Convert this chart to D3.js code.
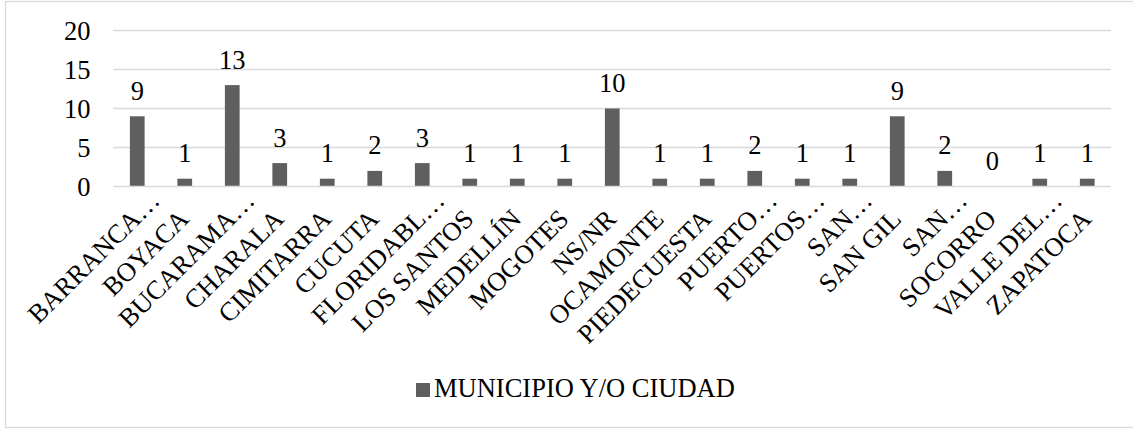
<!DOCTYPE html>
<html>
<head>
<meta charset="utf-8">
<script src="https://cdn.jsdelivr.net/npm/d3@7"></script>
<style>
  html, body { margin: 0; padding: 0; background: #fff; }
  svg { display: block; }
  text { font-family: "Liberation Serif", "Times New Roman", serif; fill: #000; }
</style>
</head>
<body>
<svg id="chart" width="1133" height="429"></svg>
<script>
const categories = ["BARRANCA…", "BOYACA", "BUCARAMA…", "CHARALA", "CIMITARRA", "CUCUTA",
  "FLORIDABL…", "LOS SANTOS", "MEDELLÍN", "MOGOTES", "NS/NR", "OCAMONTE", "PIEDECUESTA",
  "PUERTO…", "PUERTOS…", "SAN…", "SAN GIL", "SAN…", "SOCORRO", "VALLE DEL…", "ZAPATOCA"];
const values = [9, 1, 13, 3, 1, 2, 3, 1, 1, 1, 10, 1, 1, 2, 1, 1, 9, 2, 0, 1, 1];
const yTicks = [0, 5, 10, 15, 20];
const seriesName = "MUNICIPIO Y/O CIUDAD";

(function () {
const svg = d3.select("#chart");
const plotLeft = 113.5, plotRight = 1111, plotTop = 30.5, plotBottom = 186.5;
const fontSize = 26.5;
const fontFamily = '"Liberation Serif", "Times New Roman", serif';
const barColor = "#5f5f5f";
const gridColor = "#d9d9d9";

// chart border
svg.append("rect")
  .attr("x", 5.5).attr("y", 1.5)
  .attr("width", 1140).attr("height", 426)
  .attr("fill", "#fff").attr("stroke", gridColor).attr("stroke-width", 1.3);

const idx = categories.map((d, i) => i);
const x = d3.scaleBand().domain(idx).range([plotLeft, plotRight]).paddingInner(0.69).paddingOuter(0.345);
const y = d3.scaleLinear().domain([0, 20]).range([plotBottom, plotTop]);

// gridlines
svg.append("g").selectAll("line").data(yTicks.filter(t => t !== 0)).join("line")
  .attr("x1", plotLeft).attr("x2", plotRight)
  .attr("y1", d => y(d)).attr("y2", d => y(d))
  .attr("stroke", gridColor).attr("stroke-width", 1.3);

// y axis labels
const yAxis = d3.axisLeft(y).tickValues(yTicks).tickSize(0).tickPadding(0).tickFormat(d3.format("d"));
const gy = svg.append("g").attr("transform", `translate(${plotLeft - 23},0)`).call(yAxis)
  .attr("font-family", fontFamily).attr("font-size", fontSize);
gy.select(".domain").remove();
gy.selectAll("text")
  .attr("font-size", fontSize)
  .attr("font-family", fontFamily)
  .attr("fill", "#000")
  .attr("dy", "0.34em");

// bars
svg.append("g").selectAll("rect").data(values).join("rect")
  .attr("x", (d, i) => x(i))
  .attr("width", x.bandwidth())
  .attr("y", d => y(d))
  .attr("height", d => y(0) - y(d))
  .attr("fill", barColor);

// x axis line
svg.append("line")
  .attr("x1", plotLeft).attr("x2", plotRight)
  .attr("y1", y(0)).attr("y2", y(0))
  .attr("stroke", gridColor).attr("stroke-width", 1.5);

// value labels
svg.append("g").selectAll("text").data(values).join("text")
  .attr("x", (d, i) => x(i) + x.bandwidth() / 2)
  .attr("y", d => y(d) - 16.5)
  .attr("text-anchor", "middle")
  .attr("font-family", fontFamily)
  .attr("font-size", fontSize)
  .text(d => d);

// category labels
svg.append("g").selectAll("text").data(categories).join("text")
  .attr("transform", (d, i) => {
    const c = x(i) + x.bandwidth() / 2;
    const shift = d.endsWith("…") ? 18.5 : 0;
    return `translate(${c + 5.5 + shift},${220.5 - shift}) rotate(-45)`;
  })
  .attr("text-anchor", "end")
  .attr("font-family", fontFamily)
  .attr("font-size", fontSize)
  .text(d => d);

// legend
const lg = svg.append("g");
lg.append("rect").attr("x", 416).attr("y", 383).attr("width", 14).attr("height", 14).attr("fill", barColor);
lg.append("text").attr("x", 434).attr("y", 397).attr("font-family", fontFamily).attr("font-size", fontSize).text(seriesName);
})();
</script>
</body>
</html>
